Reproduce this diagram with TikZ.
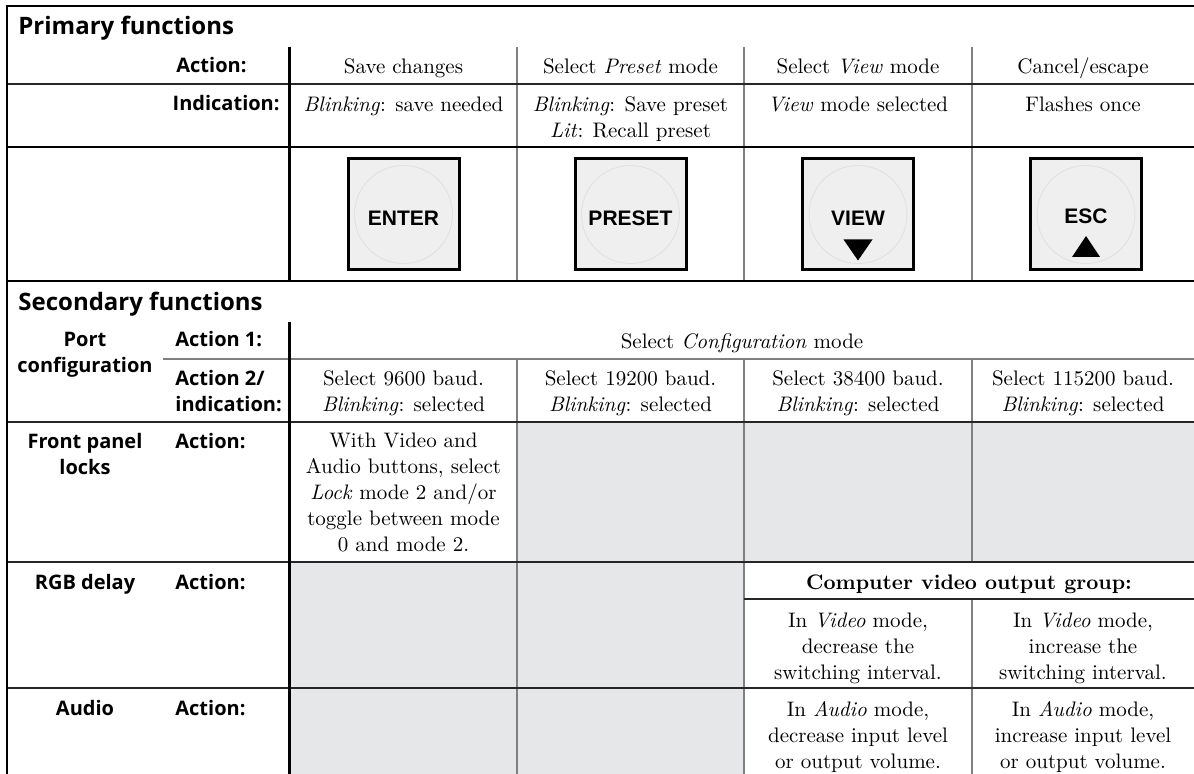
\documentclass[tikz,border=0pt]{standalone}
\usepackage{fontspec}
\newfontfamily\headfont{Open Sans}
\newfontfamily\keyfont{Liberation Sans}
\definecolor{cellgray}{RGB}{230,231,232}
\definecolor{keygray}{RGB}{239,239,239}
\definecolor{rulegray}{RGB}{128,128,128}
\tikzset{
  % text (multi-line nodes sit on the baseline of their last line)
  head/.style     = {font=\headfont\bfseries\fontsize{12}{14}\selectfont,
                     anchor=base west, inner sep=0pt},
  lbl/.style      = {font=\headfont\bfseries\fontsize{10}{13}\selectfont,
                     anchor=base west, inner sep=0pt, align=left},
  grouplbl/.style = {font=\headfont\bfseries\fontsize{10}{13}\selectfont,
                     anchor=base, inner sep=0pt, align=center},
  cell/.style     = {font=\fontsize{10.5}{13}\selectfont,
                     anchor=base, inner sep=0pt, align=center},
  keylbl/.style   = {font=\keyfont\bfseries\fontsize{10.5}{12}\selectfont,
                     anchor=base, inner sep=0pt},
  % rules
  frame/.style     = {line width=1.15pt, black},
  thickrule/.style = {line width=1.85pt, black},
  rowrule/.style   = {line width=0.7pt, black!85},
  colrule/.style   = {line width=0.55pt, rulegray},
  shade/.style     = {fill=cellgray},
  key/.style       = {line width=1.5pt, fill=keygray},
}

\begin{document}
\begin{tikzpicture}[x=0.5pt, y=-0.5pt]
\useasboundingbox (0,0) rectangle (1194,774);

% ---------- Shaded (unused) cells ----------
\fill[shade] (517,422) rectangle (1194,562);
\fill[shade] (290,562) rectangle (744,774);

% ---------- Primary functions ----------
\node[head] (hprim) at (18,35) {Primary functions};
\node[lbl] (pact) at (176,73) {Action:};
\node[lbl, anchor=base east] (pind) at (280,111) {Indication:};

\node[cell] (act1) at (403.5,74) {Save changes};
\node[cell] (act2) at (630.5,74) {Select \textit{Preset} mode};
\node[cell] (act3) at (858,74)   {Select \textit{View} mode};
\node[cell] (act4) at (1083,74)  {Cancel/escape};

\node[cell] (ind1) at (403.5,112) {\textit{Blinking}: save needed};
\node[cell] (ind2) at (630.5,138) {\textit{Blinking}: Save preset\\\textit{Lit}: Recall preset};
\node[cell] (ind3) at (858,112)   {\textit{View} mode selected};
\node[cell] (ind4) at (1083,112)  {Flashes once};

% ---------- Front panel buttons ----------
\foreach \cx/\name/\base in {403.5/ENTER/226, 630.5/PRESET/226, 858/VIEW/226, 1086/ESC/224} {
  \draw[key] (\cx-55.5,159) rectangle (\cx+55.5,270);
  \draw[black!12, line width=0.4pt] (\cx,214.5) circle[radius=24.5pt];
  \node[keylbl] (key\name) at (\cx,\base) {\name};
}
\fill (843.5,239.5) -- (872.5,239.5) -- (858,260.5) -- cycle;
\fill (1072,257) -- (1100,257) -- (1086,236) -- cycle;

% ---------- Secondary functions ----------
\node[head] (hsec) at (18,311) {Secondary functions};

\node[grouplbl] (gport)  at (85,373) {Port\\configuration};
\node[grouplbl] (glock)  at (85,475) {Front panel\\locks};
\node[grouplbl] (grgb)   at (85,589) {RGB delay};
\node[grouplbl] (gaudio) at (85,715) {Audio};

\node[lbl] (sact1)  at (175,347) {Action 1:};
\node[lbl] (sact2)  at (175,412) {Action 2/\\indication:};
\node[lbl] (slock)  at (175,449) {Action:};
\node[lbl] (srgb)   at (175,589) {Action:};
\node[lbl] (saudio) at (175,715) {Action:};

\node[cell] (cfg) at (742,349) {Select \textit{Configuration} mode};

\node[cell] (baud1) at (403.5,412) {Select 9600 baud.\\\textit{Blinking}: selected};
\node[cell] (baud2) at (630.5,412) {Select 19200 baud.\\\textit{Blinking}: selected};
\node[cell] (baud3) at (858,412)   {Select 38400 baud.\\\textit{Blinking}: selected};
\node[cell] (baud4) at (1083,412)  {Select 115200 baud.\\\textit{Blinking}: selected};

\node[cell] (lock) at (403.5,552)
  {With Video and\\Audio buttons, select\\\textit{Lock} mode 2 and/or\\toggle between mode\\0 and mode 2.};

\node[cell] (cvgroup) at (969,590) {\textbf{Computer video output group:}};
\node[cell] (rgbdn) at (858,679)  {In \textit{Video} mode,\\decrease the\\switching interval.};
\node[cell] (rgbup) at (1083,679) {In \textit{Video} mode,\\increase the\\switching interval.};

\node[cell] (auddn) at (858,768)  {In \textit{Audio} mode,\\decrease input level\\or output volume.};
\node[cell] (audup) at (1083,768) {In \textit{Audio} mode,\\increase input level\\or output volume.};

% ---------- Column rules ----------
\foreach \cx in {517, 744, 972} {
  \draw[colrule] (\cx,47) -- (\cx,281);
  \draw[colrule] (\cx,359) -- (\cx,562);
}
\draw[colrule] (517,562) -- (517,774);
\draw[colrule] (744,562) -- (744,774);
\draw[colrule] (972,599) -- (972,774);
\draw[colrule] (163,359) -- (1194,359);

% ---------- Row rules ----------
\draw[rowrule] (7,84) -- (1194,84);
\draw[rowrule] (7,422) -- (1194,422);
\draw[rowrule] (7,562) -- (1194,562);
\draw[rowrule] (744,599) -- (1194,599);
\draw[rowrule] (7,688) -- (1194,688);

% ---------- Frame ----------
\draw[frame] (7,147) -- (1194,147);
\draw[frame] (7,281) -- (1194,281);
\draw[thickrule] (289.5,47) -- (289.5,281);
\draw[thickrule] (289.5,322) -- (289.5,774);
\draw[frame] (7,774) -- (7,6) -- (1194,6);

\end{tikzpicture}
\end{document}
